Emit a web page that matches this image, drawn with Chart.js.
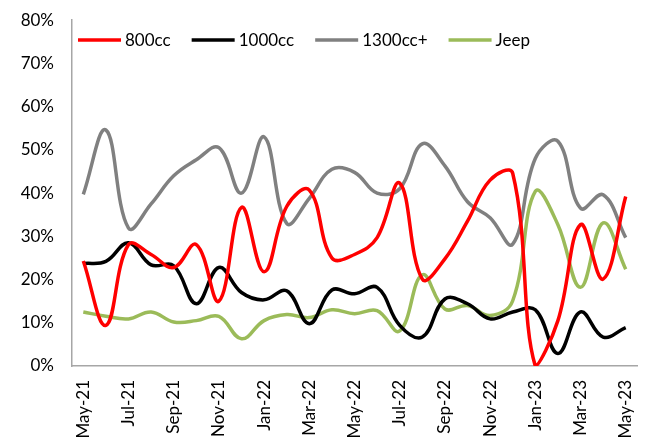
<!DOCTYPE html>
<html>
<head>
<meta charset="utf-8">
<script src="https://cdn.jsdelivr.net/npm/chart.js@4"></script>
<style>
  html, body { margin: 0; padding: 0; background: #fff; }
  #wrap { width: 646px; height: 447px; }
</style>
</head>
<body>
<div id="wrap"><canvas id="segChart" width="646" height="447"></canvas></div>
<script>
const months = ['May-21','Jun-21','Jul-21','Aug-21','Sep-21','Oct-21','Nov-21','Dec-21',
  'Jan-22','Feb-22','Mar-22','Apr-22','May-22','Jun-22','Jul-22','Aug-22','Sep-22','Oct-22',
  'Nov-22','Dec-22','Jan-23','Feb-23','Mar-23','Apr-23','May-23'];

const cc800  = [24.3, 9.4, 28.1, 25.8, 22.8, 28.1, 15.0, 36.7, 21.8, 36.9, 40.7, 25.0, 25.8,
  29.7, 42.3, 20.1, 24.8, 33.5, 43.0, 44.6, 0.0, 10.5, 32.7, 20.1, 39.2];
const cc1000 = [23.7, 24.2, 28.5, 23.4, 23.2, 14.4, 22.8, 17.0, 15.3, 17.4, 9.8, 17.6, 16.7,
  18.2, 9.4, 6.7, 15.5, 14.4, 10.9, 12.5, 13.0, 2.9, 12.5, 6.7, 8.9];
const cc1300 = [39.7, 54.6, 31.9, 37.5, 44.0, 47.7, 50.5, 40.0, 53.0, 33.0, 38.8, 45.5, 44.8,
  40.0, 41.0, 51.4, 46.3, 38.0, 34.3, 28.2, 48.0, 52.0, 36.5, 39.6, 29.7];
const jeep   = [12.5, 11.5, 10.9, 12.5, 10.2, 10.5, 11.5, 6.3, 10.5, 11.9, 11.2, 13.0, 12.1,
  12.8, 8.1, 21.1, 13.2, 14.0, 11.7, 15.1, 40.4, 32.7, 18.2, 33.1, 22.4];

const yTicks = [0, 10, 20, 30, 40, 50, 60, 70, 80];

const fontFamily = 'Lato, "Noto Sans", sans-serif';

// legend drawn inside the plot area, like the original
const innerLegend = {
  id: 'innerLegend',
  afterDraw(chart) {
    const ctx = chart.ctx;
    ctx.save();
    ctx.font = '17px ' + fontFamily;
    ctx.textBaseline = 'middle';
    let x = 78;
    const y = 40;
    chart.data.datasets.forEach(ds => {
      ctx.strokeStyle = ds.borderColor;
      ctx.lineWidth = 3.5;
      ctx.beginPath();
      ctx.moveTo(x, y);
      ctx.lineTo(x + 43, y);
      ctx.stroke();
      ctx.fillStyle = '#000';
      ctx.fillText(ds.label, x + 47, y + 1);
      x += 47 + ctx.measureText(ds.label).width + 21;
    });
    ctx.restore();
  }
};

function series(label, data, color) {
  return {
    label: label,
    data: data,
    borderColor: color,
    backgroundColor: color,
    borderWidth: 3.5,
    pointRadius: 0,
    tension: 0.4,
    fill: false
  };
}

new Chart(document.getElementById('segChart'), {
  type: 'line',
  data: {
    labels: months,
    datasets: [
      series('800cc', cc800, '#ff0000'),
      series('1000cc', cc1000, '#000000'),
      series('1300cc+', cc1300, '#808080'),
      series('Jeep', jeep, '#9bbb59')
    ]
  },
  options: {
    responsive: false,
    animation: false,
    layout: { padding: { top: 17, right: 0, left: 0, bottom: 0 } },
    plugins: {
      legend: { display: false },
      tooltip: { enabled: false }
    },
    scales: {
      x: {
        offset: true,
        grid: { display: false },
        border: { display: true, color: '#a6a6a6', width: 1.5 },
        ticks: {
          autoSkip: false,
          maxRotation: 90,
          minRotation: 90,
          color: '#000',
          padding: 6,
          font: { family: fontFamily, size: 17 },
          callback: function (val, i) { return i % 2 === 0 ? months[i] : ''; }
        },
        afterFit: scale => {
          scale.height = 81;
          scale.paddingRight = 9;
        }
      },
      y: {
        min: 0,
        max: 80,
        grid: { display: false },
        border: { display: true, color: '#a6a6a6', width: 1.5 },
        afterBuildTicks: scale => { scale.ticks = yTicks.map(v => ({ value: v })); },
        ticks: {
          color: '#000',
          padding: 10,
          font: { family: fontFamily, size: 17 },
          callback: v => v + '%'
        },
        afterFit: scale => { scale.width = 72; }
      }
    }
  },
  plugins: [innerLegend]
});
</script>
</body>
</html>
